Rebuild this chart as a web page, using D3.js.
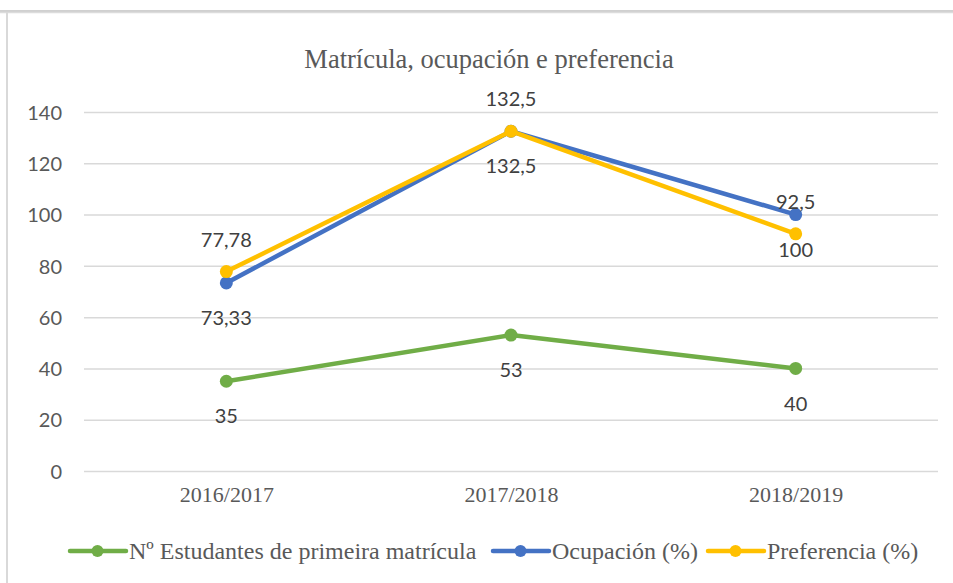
<!DOCTYPE html>
<html>
<head>
<meta charset="utf-8">
<script src="https://cdn.jsdelivr.net/npm/d3@7"></script>
<style>
  html, body { margin: 0; padding: 0; background: #fff; }
  svg { display: block; }
  .serif { font-family: "Liberation Serif", "DejaVu Serif", serif; fill: #595959; }
  .sans { font-family: Lato, "Open Sans", sans-serif; }
</style>
</head>
<body>
<div id="chart"></div>
<script>
// --- Data ---
const categories = ['2016/2017', '2017/2018', '2018/2019'];
const estudantes = [35, 53, 40];
const ocupacion = [73.33, 132.5, 100];
const preferencia = [77.78, 132.5, 92.5];
const yTicks = [0, 20, 40, 60, 80, 100, 120, 140];

const series = [
    { name: 'Nº Estudantes de primeira matrícula', values: estudantes, color: '#70AD47', labelPos: 'below' },
    { name: 'Ocupación (%)', values: ocupacion, color: '#4472C4', labelPos: 'below' },
    { name: 'Preferencia (%)', values: preferencia, color: '#FFC000', labelPos: 'above' }
];

function fmt(v) {
    return String(v).replace('.', ',');
}

// --- Layout ---
const W = 953, H = 583;
const plot = { left: 84, right: 938, top: 112, bottom: 471 };

const svg = d3.select('#chart').append('svg')
    .attr('width', W)
    .attr('height', H);

// chart frame edges
svg.append('line').attr('x1', 0).attr('x2', W).attr('y1', 11).attr('y2', 11)
    .attr('stroke', '#a0a0a0').attr('stroke-width', 1);
svg.append('line').attr('x1', 0).attr('x2', W).attr('y1', 12.5).attr('y2', 12.5)
    .attr('stroke', '#dcdcdc').attr('stroke-width', 1.5);
svg.append('line').attr('x1', 7).attr('x2', 7).attr('y1', 12).attr('y2', H)
    .attr('stroke', '#d9d9d9').attr('stroke-width', 2);

// Scales
const x = d3.scalePoint().domain(categories).range([plot.left, plot.right]).padding(0.5);
const y = d3.scaleLinear().domain([0, 140]).range([plot.bottom, plot.top]);

// Title
svg.append('text').attr('class', 'serif')
    .attr('x', 489).attr('y', 68)
    .attr('text-anchor', 'middle')
    .style('font-size', '26.5px')
    .text('Matrícula, ocupación e preferencia');

// Gridlines + y labels
const yAxis = d3.axisLeft(y).tickValues(yTicks).tickSize(-(plot.right - plot.left)).tickPadding(22);
const gy = svg.append('g').attr('transform', `translate(${plot.left},0)`).call(yAxis);
gy.select('.domain').remove();
gy.selectAll('.tick line').attr('stroke', '#d9d9d9').attr('stroke-width', 1.5);
gy.selectAll('.tick text')
    .attr('class', 'sans')
    .attr('fill', '#595959')
    .style('font-size', '20px')
    .attr('dy', '0.36em');

// X axis labels
const xAxis = d3.axisBottom(x).tickSize(0).tickPadding(15);
const gx = svg.append('g').attr('transform', `translate(0,${plot.bottom})`).call(xAxis);
gx.select('.domain').remove();
gx.selectAll('.tick text')
    .attr('class', 'serif')
    .attr('fill', '#595959')
    .style('font-size', '22px');

// Lines
const line = d3.line()
    .x((d, i) => x(categories[i]))
    .y(d => y(d));

series.forEach(s => {
    const g = svg.append('g');
    g.append('path')
        .datum(s.values)
        .attr('d', line)
        .attr('fill', 'none')
        .attr('stroke', s.color)
        .attr('stroke-width', 4.5)
        .attr('stroke-linejoin', 'round')
        .attr('stroke-linecap', 'round');
    g.selectAll('circle')
        .data(s.values)
        .join('circle')
        .attr('cx', (d, i) => x(categories[i]))
        .attr('cy', d => y(d))
        .attr('r', 6.5)
        .attr('fill', s.color);
});

// Data labels
series.forEach(s => {
    svg.append('g').selectAll('text')
        .data(s.values)
        .join('text')
        .attr('class', 'sans')
        .attr('x', (d, i) => x(categories[i]))
        .attr('y', d => y(d) + (s.labelPos === 'above' ? -32 : 35))
        .attr('dy', '0.36em')
        .attr('text-anchor', 'middle')
        .attr('fill', '#404040')
        .style('font-size', '20px')
        .text(d => fmt(d));
});

// Legend
const legendY = 551;
const legendStarts = [70, 493, 708];
series.forEach((s, i) => {
    const g = svg.append('g').attr('transform', `translate(${legendStarts[i]},${legendY})`);
    g.append('line').attr('x1', 0).attr('x2', 56).attr('y1', 0).attr('y2', 0)
        .attr('stroke', s.color).attr('stroke-width', 4.5).attr('stroke-linecap', 'round');
    g.append('circle').attr('cx', 27.5).attr('cy', 0).attr('r', 6).attr('fill', s.color);
    g.append('text').attr('class', 'serif')
        .attr('x', 59).attr('y', 0).attr('dy', '0.33em')
        .style('font-size', '24px')
        .text(s.name);
});
</script>
</body>
</html>
